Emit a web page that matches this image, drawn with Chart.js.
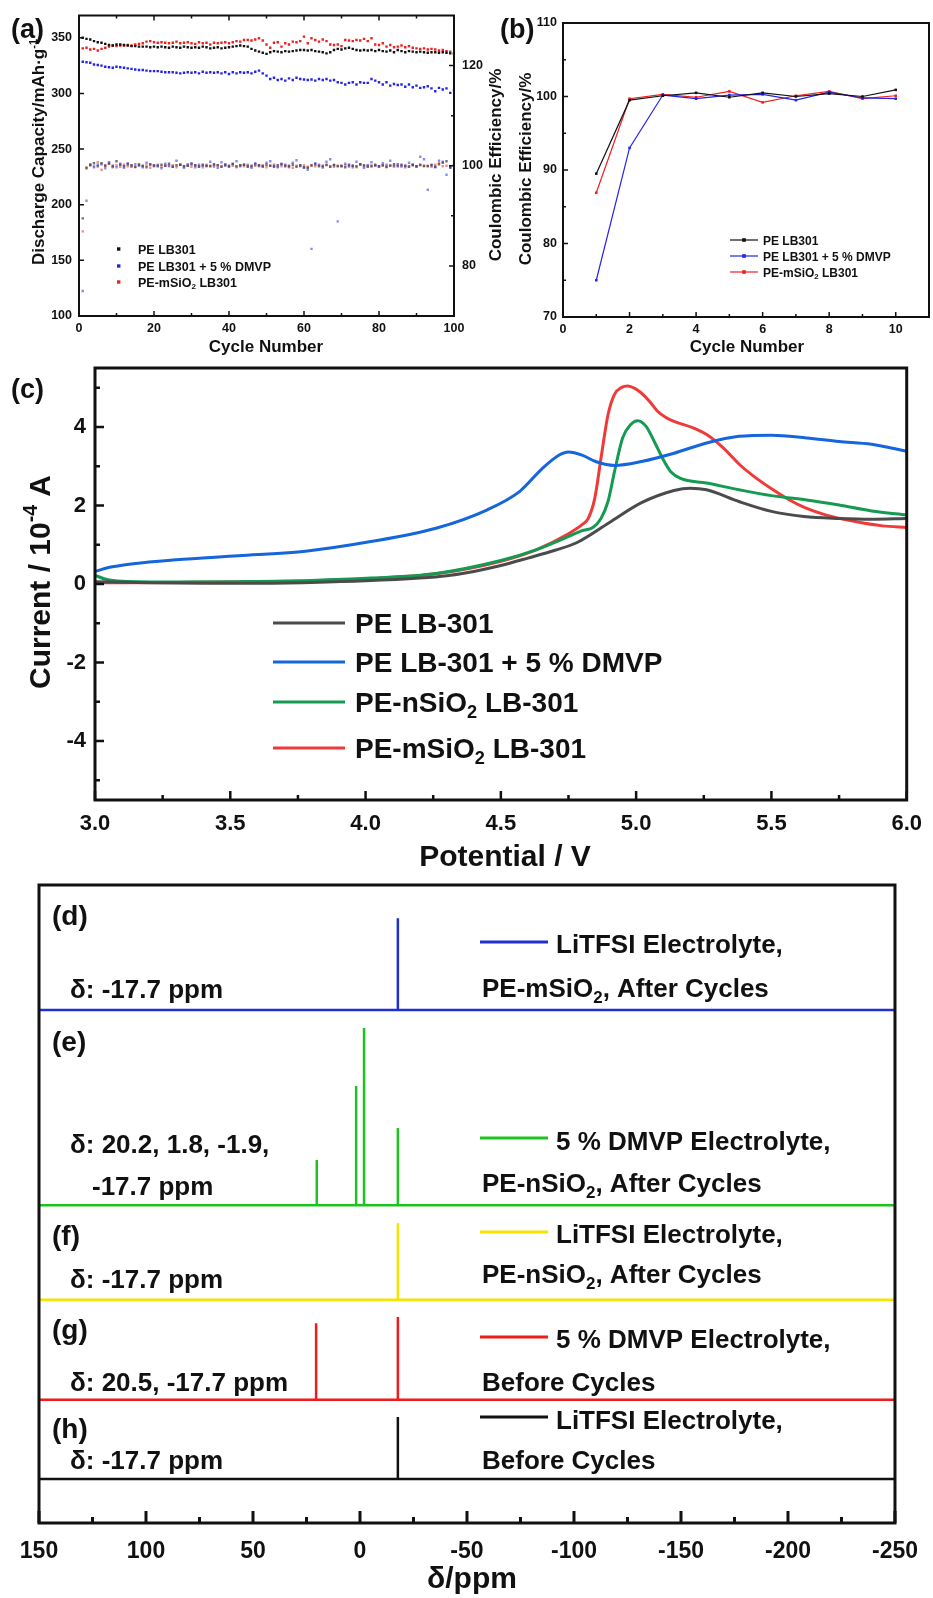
<!DOCTYPE html>
<html>
<head>
<meta charset="utf-8">
<script src="https://cdn.jsdelivr.net/npm/chart.js@4.4.1/dist/chart.umd.min.js"></script>
<style>
  html, body { margin: 0; padding: 0; background: #fff; }
  #wrap { position: relative; width: 933px; height: 1598px; overflow: hidden; }
  canvas { position: absolute; left: 0; top: 0; }
</style>
</head>
<body>
<div id="wrap">
  <canvas id="cA" width="933" height="1598"></canvas>
  <canvas id="cB" width="933" height="1598"></canvas>
  <canvas id="cC" width="933" height="1598"></canvas>
  <canvas id="cD" width="933" height="1598"></canvas>
</div>
<script>
// ---------- (a) discharge capacity (mAh/g) and coulombic efficiency (%), cycles 1..100
const capBlack = [350, 349, 348.5, 347, 346, 345.5, 344.5, 343.5, 343, 344,
  344, 343.5, 343, 342.5, 342.5, 342, 342, 342, 341.5, 342,
  341.5, 342, 341.5, 341, 342, 341.5, 341, 342, 341.5, 341,
  341.5, 341, 342, 341.5, 340.5, 341, 341.5, 340.5, 341, 341.5,
  342, 342.5, 343, 342.5, 342, 340, 338.5, 337.5, 336.5, 335.5,
  337, 338, 337.5, 337, 338, 337.5, 338, 338.5, 339, 339,
  338.5, 339, 338, 337.5, 337, 336, 337, 339, 340, 339.5,
  340.5, 341, 340, 339, 338.5, 339, 338.5, 339, 338, 339,
  338, 337.5, 338.5, 337, 339, 338, 337, 338, 337.5, 337,
  337.5, 337, 336.5, 337, 337, 336.5, 337, 336.5, 336, 336];
const capBlue = [328.5, 328, 327.5, 326, 325.5, 325, 324, 323.5, 323, 324,
  323.5, 323, 322.5, 322, 321.5, 321, 321, 320.5, 320, 320,
  320, 319.5, 319, 319, 319, 318.5, 318, 318.5, 319, 318.5,
  319, 318, 319.5, 318.5, 319, 318.5, 319, 318, 319, 317.5,
  319, 318, 319, 318.5, 319, 318, 319.5, 320.5, 318, 316,
  313, 314, 312, 313, 311.5, 313.5, 312, 314, 313, 312.5,
  312, 312.5, 311.5, 313, 312, 313, 311.5, 312, 310, 309.5,
  308, 309.5, 310, 308, 310, 309.5, 309.5, 313, 311.5, 310,
  308, 310, 307, 308.5, 307.5, 308, 306, 308, 305.5, 307,
  305, 305.5, 306.5, 304.5, 302, 305, 303.5, 304.5, 300.5, 303];
const capRed = [340.5, 341, 339.5, 340, 338.5, 340, 341, 342, 343, 342.5,
  343, 343, 343.5, 343, 344, 344.5, 345, 346.5, 347, 346,
  345.5, 346, 345.5, 345, 345.5, 346.5, 345, 345.5, 346, 345,
  344.5, 346, 345, 345.5, 344, 345.5, 345, 345.5, 346, 345,
  346, 347, 346.5, 348, 348, 347.5, 348.5, 349.5, 347.5, 344,
  341, 345.5, 346, 342, 345, 344, 346.5, 346, 347, 351,
  345, 349.5, 348, 346.5, 348.5, 347, 344, 343.5, 344, 342.5,
  348, 347.5, 347, 348, 347.5, 349, 347, 349.5, 344, 343.5,
  345, 342, 343.5, 341.5, 342, 343, 341.5, 342.5, 341, 340.5,
  340, 340.5, 339.5, 340, 339.5, 338.5, 339, 338, 337.5, 335.5];
const ceBlack = [89.5, 99.5, 100.1, 100.5, 99.9, 100.5, 100.0, 100.4, 100.0, 100.9,
  100.2, 99.9, 100.3, 100.1, 99.8, 100.2, 100.0, 99.7, 100.3, 100.1,
  99.9, 100.2, 100.0, 100.4, 99.8, 100.1, 100.2, 99.9, 100.0, 100.3,
  100.1, 99.8, 100.2, 100.0, 99.9, 100.3, 100.1, 99.8, 100.2, 100.0,
  100.4, 99.9, 100.1, 100.2, 99.8, 100.0, 100.3, 100.1, 99.9, 100.2,
  100.0, 99.8, 100.1, 100.3, 99.9, 100.0, 100.2, 99.8, 100.1, 99.7,
  99.6, 100.1, 100.3, 99.9, 100.0, 100.2, 99.8, 100.1, 99.9, 100.0,
  99.7, 100.2, 100.0, 99.9, 100.3, 100.1, 99.8, 100.0, 100.2, 99.9,
  100.1, 99.8, 100.0, 100.3, 99.9, 100.2, 100.0, 99.8, 100.1, 99.9,
  100.2, 100.0, 99.9, 100.1, 99.8, 100.3, 100.6, 100.9, 99.7, 100.0];
const ceBlue = [75.0, 93.0, 100.2, 99.7, 100.2, 100.3, 99.5, 100.6, 99.8, 99.7,
  100.4, 99.6, 100.5, 99.8, 100.3, 100.0, 99.7, 100.6, 100.2, 99.9,
  100.1, 99.5, 100.4, 100.0, 99.8, 101.0, 100.2, 99.6, 100.3, 100.5,
  99.7, 100.2, 100.0, 99.9, 100.8, 100.1, 99.6, 100.7, 100.0, 99.8,
  100.3, 100.9, 99.9, 100.2, 100.0, 99.6, 100.5, 100.1, 99.8, 100.6,
  100.9, 100.0, 99.7, 100.4, 100.2, 99.8, 100.6, 101.1, 100.0, 99.6,
  99.2, 83.4, 100.5, 100.1, 99.7, 100.8, 101.3, 100.2, 88.9, 99.9,
  100.4, 100.0, 99.7, 100.8, 100.3, 99.6, 100.1, 100.7, 100.0, 99.8,
  100.5, 100.2, 101.0, 99.9, 100.3, 100.0, 99.7, 100.6, 100.2, 99.9,
  101.8, 101.3, 95.2, 100.2, 99.7, 101.0, 100.8, 98.2, 99.6, 100.4];
const ceRed = [86.9, 99.7, 100.3, 99.9, 100.7, 99.2, 100.1, 100.7, 99.7, 100.1,
  99.8, 100.2, 99.9, 100.0, 99.7, 100.3, 99.9, 100.1, 99.6, 100.0,
  100.2, 99.8, 100.0, 99.9, 100.1, 99.7, 100.2, 99.9, 100.0, 99.8,
  100.1, 99.9, 99.7, 100.2, 100.0, 99.8, 100.1, 99.9, 100.3, 99.8,
  100.0, 99.7, 100.1, 99.9, 100.2, 99.8, 100.0, 99.9, 100.1, 99.7,
  100.0, 100.2, 99.8, 99.9, 100.1, 99.7, 99.6, 100.0, 99.9, 100.1,
  99.8, 100.0, 99.9, 100.2, 99.7, 100.1, 99.9, 99.8, 100.0, 99.9,
  100.1, 99.8, 100.0, 99.7, 100.2, 99.9, 100.0, 99.8, 100.1, 99.9,
  100.0, 99.7, 100.1, 99.9, 100.2, 99.8, 100.0, 99.9, 100.3, 99.8,
  100.1, 99.9, 100.0, 99.8, 100.2, 100.5, 99.9, 100.0, 99.7, 100.1];
const aXTicks = [0, 20, 40, 60, 80, 100];
const aXMinor = [10, 30, 50, 70, 90];
const aYTicks = [100, 150, 200, 250, 300, 350];
const aY2Ticks = [80, 100, 120];
const aY2Minor = [90, 110];

// ---------- (b) coulombic efficiency, first 10 cycles (same runs as (a))
const bCount = 10;
const bXTicks = [0, 2, 4, 6, 8, 10];
const bXMinor = [1, 3, 5, 7, 9];
const bYTicks = [70, 80, 90, 100, 110];
const bYMinor = [75, 85, 95, 105];
const abNames = [[['PE LB301', '']], [['PE LB301 + 5 % DMVP', '']], [['PE-mSiO', ''], ['2', 'sub'], [' LB301', '']]];
const abColors = ['#111111', '#2424e6', '#f01e1e'];

// ---------- (c) LSV, potential (V) vs current (1e-4 A)
const vGray = [3.0, 3.2, 3.4, 3.6, 3.8, 4.0, 4.2, 4.3, 4.4, 4.5, 4.6, 4.7, 4.78, 4.9, 5.02, 5.14, 5.2, 5.26, 5.38, 5.5, 5.62, 5.75, 5.87, 6.0];
const iGray = [0.06, 0.03, 0.02, 0.02, 0.04, 0.08, 0.15, 0.21, 0.32, 0.47, 0.66, 0.86, 1.05, 1.56, 2.07, 2.38, 2.44, 2.40, 2.10, 1.85, 1.72, 1.67, 1.65, 1.67];
const vBlue = [3.0, 3.05, 3.1, 3.2, 3.3, 3.53, 3.77, 4.02, 4.26, 4.45, 4.57, 4.65, 4.71, 4.75, 4.8, 4.85, 4.92, 5.02, 5.14, 5.26, 5.38, 5.5, 5.63, 5.75, 5.87, 6.0];
const iBlue = [0.32, 0.42, 0.48, 0.56, 0.62, 0.72, 0.83, 1.08, 1.42, 1.89, 2.36, 2.92, 3.26, 3.36, 3.28, 3.12, 3.02, 3.12, 3.33, 3.59, 3.76, 3.79, 3.72, 3.63, 3.56, 3.38];
const vGreen = [3.0, 3.04, 3.1, 3.3, 3.53, 3.8, 4.02, 4.26, 4.5, 4.63, 4.75, 4.8, 4.84, 4.87, 4.896, 4.92, 4.95, 4.98, 5.006, 5.036, 5.067, 5.097, 5.128, 5.164, 5.26, 5.38, 5.5, 5.63, 5.75, 5.87, 6.0];
const iGreen = [0.22, 0.12, 0.07, 0.05, 0.06, 0.09, 0.15, 0.27, 0.6, 0.87, 1.21, 1.36, 1.44, 1.67, 2.1, 2.86, 3.72, 4.06, 4.16, 4.02, 3.63, 3.21, 2.86, 2.69, 2.57, 2.40, 2.25, 2.14, 2.01, 1.86, 1.76];
const vRed = [3.0, 3.3, 3.53, 3.8, 4.02, 4.26, 4.5, 4.63, 4.75, 4.8, 4.823, 4.847, 4.872, 4.896, 4.92, 4.945, 4.969, 4.995, 5.018, 5.05, 5.079, 5.11, 5.14, 5.213, 5.262, 5.323, 5.384, 5.445, 5.506, 5.567, 5.628, 5.7, 5.81, 5.91, 6.0];
const iRed = [0.03, 0.04, 0.05, 0.08, 0.14, 0.26, 0.58, 0.87, 1.28, 1.51, 1.67, 2.18, 3.29, 4.31, 4.83, 5.0, 5.04, 4.98, 4.87, 4.65, 4.40, 4.24, 4.14, 3.97, 3.80, 3.46, 3.03, 2.69, 2.40, 2.14, 1.93, 1.76, 1.59, 1.48, 1.44];
const cXTicks = [3.0, 3.5, 4.0, 4.5, 5.0, 5.5, 6.0];
const cXMinor = [3.25, 3.75, 4.25, 4.75, 5.25, 5.75];
const cYTicks = [-4, -2, 0, 2, 4];
const cYMinor = [-5, -3, -1, 1, 3, 5];
const cNames = [[['PE LB-301', '']], [['PE LB-301 + 5 % DMVP', '']], [['PE-nSiO', ''], ['2', 'sub'], [' LB-301', '']], [['PE-mSiO', ''], ['2', 'sub'], [' LB-301', '']]];
const cColors = ['#4b4b4b', '#1566dc', '#159a52', '#f03a3a'];

// ---------- (d)-(h) 31P NMR, stacked traces
const nmrShifts = [[-17.7], [20.2, 1.8, -1.9, -17.7], [-17.7], [20.5, -17.7], [-17.7]];
const nmrHeights = [[14.4], [7.1, 18.7, 27.8, 12.1], [12.0], [12.0, 13.0], [9.7]];
const nmrOffsets = [80.4, 49.8, 35.0, 19.3, 6.9];
const nmrColors = ['#1f2fd0', '#1ec41e', '#f4e400', '#ee1c1c', '#111111'];
const dXTicks = [150, 100, 50, 0, -50, -100, -150, -200, -250];
const dXMinor = [125, 75, 25, -25, -75, -125, -175, -225];

const FONT = "'Liberation Sans', Arial, Helvetica, sans-serif";
Chart.defaults.font.family = FONT;
Chart.defaults.color = '#111';
Chart.defaults.animation = false;
Chart.defaults.responsive = false;
Chart.defaults.events = [];
Chart.defaults.plugins.legend.display = false;
Chart.defaults.plugins.tooltip.enabled = false;

function pts(xs, ys) { return xs.map((x, i) => ({ x: x, y: ys[i] })); }
function byCycle(vals) { return vals.map((v, i) => ({ x: i + 1, y: v })); }

function axis(pos, min, max, vals, size, fontSize, pad, extra) {
  const o = {
    type: 'linear', position: pos, min: min, max: max,
    afterBuildTicks: s => { s.ticks = vals.map(v => ({ value: v })); },
    grid: { display: false, drawTicks: false },
    border: { display: false },
    ticks: { font: { size: fontSize, weight: 'bold' }, color: '#111', padding: pad, autoSkip: false, maxRotation: 0 }
  };
  if (pos === 'left' || pos === 'right') o.afterFit = s => { s.width = size; };
  else o.afterFit = s => { s.height = size; };
  return Object.assign(o, extra || {});
}

function frame(ctx, a, lw) {
  ctx.save(); ctx.strokeStyle = '#111'; ctx.lineWidth = lw;
  ctx.strokeRect(a.left, a.top, a.right - a.left, a.bottom - a.top);
  ctx.restore();
}

function tickMarks(chart, id, vals, len, edges, lw) {
  const ctx = chart.ctx, s = chart.scales[id], a = chart.chartArea;
  ctx.save(); ctx.strokeStyle = '#111'; ctx.lineWidth = lw; ctx.beginPath();
  vals.forEach(v => {
    const p = s.getPixelForValue(v);
    edges.forEach(e => {
      if (e === 'bottom') { ctx.moveTo(p, a.bottom); ctx.lineTo(p, a.bottom - len); }
      if (e === 'top') { ctx.moveTo(p, a.top); ctx.lineTo(p, a.top + len); }
      if (e === 'left') { ctx.moveTo(a.left, p); ctx.lineTo(a.left + len, p); }
      if (e === 'right') { ctx.moveTo(a.right, p); ctx.lineTo(a.right - len, p); }
    });
  });
  ctx.stroke(); ctx.restore();
}

// text with sub/superscripts: parts = [[text, ''|'sub'|'sup'], ...]
function rich(ctx, parts, x, y, size, align, color) {
  if (typeof parts === 'string') parts = [[parts, '']];
  const f = sz => 'bold ' + sz + 'px ' + FONT;
  let w = 0;
  parts.forEach(p => { ctx.font = f(p[1] ? size * 0.65 : size); w += ctx.measureText(p[0]).width; });
  let cx = align === 'center' ? x - w / 2 : (align === 'right' ? x - w : x);
  ctx.fillStyle = color || '#111'; ctx.textAlign = 'left'; ctx.textBaseline = 'alphabetic';
  parts.forEach(p => {
    const sz = p[1] ? size * 0.65 : size;
    const dy = p[1] === 'sub' ? size * 0.22 : (p[1] === 'sup' ? -size * 0.42 : 0);
    ctx.font = f(sz); ctx.fillText(p[0], cx, y + dy);
    cx += ctx.measureText(p[0]).width;
  });
}
function richUp(ctx, parts, cx, cy, size) {
  ctx.save(); ctx.translate(cx + size * 0.36, cy); ctx.rotate(-Math.PI / 2);
  rich(ctx, parts, 0, 0, size, 'center'); ctx.restore();
}

// ---------- chart (a)
function dotSet(vals, color, yId) {
  return { data: byCycle(vals), yAxisID: yId, showLine: false, pointStyle: 'rect',
    pointRadius: 1.7, backgroundColor: color, borderWidth: 0 };
}
new Chart(document.getElementById('cA'), {
  type: 'scatter',
  data: { datasets: [
    dotSet(ceBlack, 'rgba(70,70,70,0.75)', 'y2'),
    dotSet(ceBlue, 'rgba(90,90,245,0.7)', 'y2'),
    dotSet(ceRed, 'rgba(245,90,90,0.7)', 'y2'),
    dotSet(capBlack, abColors[0], 'y'),
    dotSet(capBlue, abColors[1], 'y'),
    dotSet(capRed, abColors[2], 'y')
  ] },
  options: {
    layout: { autoPadding: false, padding: { left: 0, top: 14, right: 933 - 454 - 40, bottom: 1598 - 316 - 30 } },
    scales: {
      x: axis('bottom', 0, 100, aXTicks, 30, 12.5, 5),
      y: axis('left', 100, 370, aYTicks, 79, 12.5, 7),
      y2: axis('right', 70, 130, aY2Ticks, 40, 12.5, 8)
    }
  },
  plugins: [{ id: 'decoA', afterDraw(chart) {
    const ctx = chart.ctx;
    frame(ctx, chart.chartArea, 2);
    tickMarks(chart, 'x', aXTicks, 5, ['bottom', 'top'], 1.5);
    tickMarks(chart, 'x', aXMinor, 3, ['bottom', 'top'], 1.5);
    tickMarks(chart, 'y', aYTicks, 5, ['left'], 1.5);
    tickMarks(chart, 'y2', aY2Ticks, 5, ['right'], 1.5);
    tickMarks(chart, 'y2', aY2Minor, 3, ['right'], 1.5);
    rich(ctx, '(a)', 11, 38, 27, 'left');
    rich(ctx, 'Cycle Number', 266, 352, 17, 'center');
    richUp(ctx, [['Discharge Capacity/mAh\u00b7g', ''], ['-1', 'sup']], 38, 152, 17);
    richUp(ctx, 'Coulombic Efficiency/%', 495, 165, 17);
    [249, 266, 282].forEach((y, k) => {
      ctx.fillStyle = abColors[k]; ctx.fillRect(117, y - 1.7, 3.4, 3.4);
      rich(ctx, abNames[k], 138, y + 4.5, 12.5, 'left');
    });
  } }]
});

// ---------- chart (b)
function bSet(vals, color) {
  return { data: byCycle(vals.slice(0, bCount)), borderColor: color, backgroundColor: color,
    borderWidth: 1.2, pointStyle: 'rect', pointRadius: 1.8, pointBorderWidth: 0, tension: 0 };
}
new Chart(document.getElementById('cB'), {
  type: 'line',
  data: { datasets: [bSet(ceBlack, abColors[0]), bSet(ceBlue, abColors[1]), bSet(ceRed, abColors[2])] },
  options: {
    layout: { autoPadding: false, padding: { left: 0, top: 23, right: 933 - 929, bottom: 1598 - 317 - 30 } },
    scales: {
      x: axis('bottom', 0, 11, bXTicks, 30, 12.5, 5),
      y: axis('left', 70, 110, bYTicks, 563, 12.5, 6)
    }
  },
  plugins: [{ id: 'decoB', afterDraw(chart) {
    const ctx = chart.ctx;
    frame(ctx, chart.chartArea, 2);
    tickMarks(chart, 'x', bXTicks, 5, ['bottom'], 1.5);
    tickMarks(chart, 'x', bXMinor, 3, ['bottom'], 1.5);
    tickMarks(chart, 'y', bYTicks, 5, ['left'], 1.5);
    tickMarks(chart, 'y', bYMinor, 3, ['left'], 1.5);
    rich(ctx, '(b)', 500, 38, 27, 'left');
    rich(ctx, 'Cycle Number', 747, 352, 17, 'center');
    richUp(ctx, 'Coulombic Efficiency/%', 525, 169, 17);
    [240, 256, 272].forEach((y, k) => {
      ctx.strokeStyle = abColors[k]; ctx.lineWidth = 1.2;
      ctx.beginPath(); ctx.moveTo(730, y); ctx.lineTo(758, y); ctx.stroke();
      ctx.fillStyle = abColors[k]; ctx.fillRect(742.2, y - 1.8, 3.6, 3.6);
      rich(ctx, abNames[k], 763, y + 4.5, 12, 'left');
    });
  } }]
});

// ---------- chart (c)
function cSet(xs, ys, color) {
  return { data: pts(xs, ys), borderColor: color, borderWidth: 3, pointRadius: 0,
    cubicInterpolationMode: 'monotone', fill: false };
}
new Chart(document.getElementById('cC'), {
  type: 'line',
  data: { datasets: [
    cSet(vGray, iGray, cColors[0]), cSet(vBlue, iBlue, cColors[1]),
    cSet(vGreen, iGreen, cColors[2]), cSet(vRed, iRed, cColors[3])
  ] },
  options: {
    layout: { autoPadding: false, padding: { left: 0, top: 368, right: 933 - 915, bottom: 1598 - 800 - 60 } },
    scales: {
      x: axis('bottom', 3, 6, cXTicks, 60, 22, 11, {}),
      y: axis('left', -5.5, 5.5, cYTicks, 95, 22, 9)
    }
  },
  plugins: [{ id: 'decoC', beforeInit(chart) {
    chart.options.scales.x.ticks.callback = v => Number(v).toFixed(1);
  }, afterDraw(chart) {
    const ctx = chart.ctx;
    frame(ctx, chart.chartArea, 3);
    tickMarks(chart, 'x', cXTicks, 9, ['bottom'], 2.5);
    tickMarks(chart, 'x', cXMinor, 5, ['bottom'], 2.5);
    tickMarks(chart, 'y', cYTicks, 9, ['left'], 2.5);
    tickMarks(chart, 'y', cYMinor, 5, ['left'], 2.5);
    rich(ctx, '(c)', 11, 398, 27, 'left');
    rich(ctx, 'Potential / V', 505, 866, 30, 'center');
    richUp(ctx, [['Current / 10', ''], ['-4', 'sup'], [' A', '']], 39, 582, 30);
    [623, 662, 702, 748].forEach((y, k) => {
      ctx.strokeStyle = cColors[k]; ctx.lineWidth = 3;
      ctx.beginPath(); ctx.moveTo(273, y); ctx.lineTo(345, y); ctx.stroke();
      rich(ctx, cNames[k], 355, y + 10, 28, 'left');
    });
  } }]
});

// ---------- chart (d)-(h)
function spectrum(k) {
  const b = nmrOffsets[k];
  const out = [{ x: 150, y: b }];
  nmrShifts[k].forEach((s, j) => { out.push({ x: s, y: b }, { x: s, y: b + nmrHeights[k][j] }, { x: s, y: b }); });
  out.push({ x: -250, y: b });
  return out;
}
const dLabels = ['(d)', '(e)', '(f)', '(g)', '(h)'];
const dLabelY = [925, 1051, 1245, 1339, 1438];
const dDelta = [
  [['\u03b4: -17.7 ppm', 70, 998]],
  [['\u03b4: 20.2, 1.8, -1.9,', 70, 1153], ['-17.7 ppm', 92, 1195]],
  [['\u03b4: -17.7 ppm', 70, 1288]],
  [['\u03b4: 20.5, -17.7 ppm', 70, 1391]],
  [['\u03b4: -17.7 ppm', 70, 1469]]
];
const dLegend1 = ['LiTFSI Electrolyte,', '5 % DMVP Electrolyte,', 'LiTFSI Electrolyte,', '5 % DMVP Electrolyte,', 'LiTFSI Electrolyte,'];
const dLegend2 = [
  [['PE-mSiO', ''], ['2', 'sub'], [', After Cycles', '']],
  [['PE-nSiO', ''], ['2', 'sub'], [', After Cycles', '']],
  [['PE-nSiO', ''], ['2', 'sub'], [', After Cycles', '']],
  [['Before Cycles', '']],
  [['Before Cycles', '']]
];
const dLineY = [942, 1138, 1232, 1337, 1417];
const dBase1 = [953, 1150, 1243, 1348, 1429];
const dBase2 = [997, 1192, 1283, 1391, 1469];

new Chart(document.getElementById('cD'), {
  type: 'line',
  data: { datasets: nmrOffsets.map((o, k) => ({
    data: spectrum(k), borderColor: nmrColors[k], borderWidth: 2.5, pointRadius: 0, tension: 0, fill: false
  })) },
  options: {
    layout: { autoPadding: false, padding: { left: 39, top: 885, right: 933 - 906, bottom: 1598 - 1523 - 40 } },
    scales: {
      x: axis('bottom', -250, 150, dXTicks, 40, 23, 15, { reverse: true }),
      y: { type: 'linear', display: false, min: 0, max: 100 }
    }
  },
  plugins: [{ id: 'decoD', afterDraw(chart) {
    const ctx = chart.ctx;
    frame(ctx, chart.chartArea, 3);
    tickMarks(chart, 'x', dXTicks, 12, ['bottom'], 3);
    tickMarks(chart, 'x', dXMinor, 6, ['bottom'], 3);
    rich(ctx, '\u03b4/ppm', 472, 1588, 30, 'center');
    dLabels.forEach((t, k) => {
      rich(ctx, t, 52, dLabelY[k], 28, 'left');
      dDelta[k].forEach(d => rich(ctx, d[0], d[1], d[2], 26, 'left'));
      ctx.strokeStyle = nmrColors[k]; ctx.lineWidth = 3;
      ctx.beginPath(); ctx.moveTo(480, dLineY[k]); ctx.lineTo(548, dLineY[k]); ctx.stroke();
      rich(ctx, dLegend1[k], 556, dBase1[k], 26, 'left');
      rich(ctx, dLegend2[k], 482, dBase2[k], 26, 'left');
    });
  } }]
});
</script>
</body>
</html>
